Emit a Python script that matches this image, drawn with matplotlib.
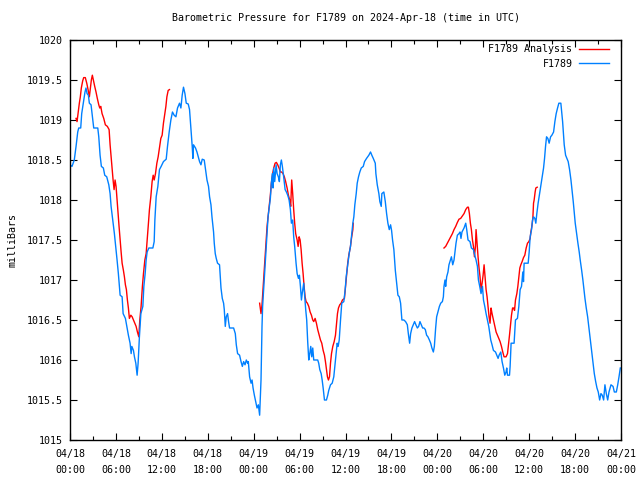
import numpy as np
import pandas as pd
import matplotlib
matplotlib.use("Agg")
import matplotlib.pyplot as plt
import matplotlib.dates as mdates

# hours since 2024-04-18 00:00 UTC, pressure in mb
obs_hours = [0.0, 0.26, 0.56, 0.79, 1.01, 1.14, 1.40, 1.53, 1.74, 1.96, 2.09, 2.23, 2.40, 2.53, 2.75,
             2.97, 3.10, 3.63, 3.76, 3.93, 4.10, 4.36, 4.54, 4.80, 5.07, 5.24, 5.37, 5.59, 5.80, 6.02,
             6.15, 6.32, 6.45, 6.55, 6.81, 6.94, 7.24, 7.42, 7.63, 7.85, 7.99, 8.08, 8.29, 8.42, 8.60,
             8.77, 8.90, 9.07, 9.26, 9.52, 9.65, 9.82, 9.95, 10.08, 10.30, 10.83, 11.00, 11.09, 11.26,
             11.48, 11.69, 11.91, 12.21, 12.57, 12.74, 12.96, 13.18, 13.39, 13.61, 13.84, 14.05, 14.31,
             14.49, 14.66, 14.83, 15.02, 15.19, 15.45, 15.62, 15.80, 15.97, 16.06, 16.14, 16.40, 16.59,
             16.93, 17.11, 17.28, 17.54, 17.71, 17.90, 18.10, 18.24, 18.42, 18.55, 18.76, 18.85, 18.98,
             19.11, 19.28, 19.54, 19.73, 19.90, 20.07, 20.16, 20.29, 20.42, 20.59, 20.72, 20.85, 21.38,
             21.60, 21.73, 21.90, 22.16, 22.35, 22.52, 22.69, 22.87, 23.04, 23.21, 23.30, 23.47, 23.66,
             23.79, 23.92, 24.09, 24.26, 24.44, 24.61, 24.78, 24.96, 25.09, 25.17, 25.30, 25.43, 25.62,
             25.75, 25.88, 26.05, 26.18, 26.31, 26.44, 26.53, 26.62, 26.75, 26.93, 27.06, 27.23, 27.36,
             27.49, 27.62, 27.75, 27.92, 28.11, 28.28, 28.45, 28.63, 28.80, 28.93, 29.10, 29.23, 29.36,
             29.54, 29.68, 29.85, 29.98, 30.11, 30.24, 30.37, 30.54, 30.67, 30.80, 30.93, 31.06, 31.20,
             31.33, 31.46, 31.59, 31.72, 31.85, 32.37, 32.50, 32.64, 32.82, 32.95, 33.08, 33.25, 33.51,
             33.68, 33.81, 34.04, 34.26, 34.47, 34.69, 34.82, 34.91, 35.04, 35.18, 35.35, 35.51, 35.78,
             35.96, 36.09, 36.26, 36.48, 36.65, 36.78, 36.96, 37.09, 37.22, 37.40, 37.53, 37.70, 37.87,
             38.06, 38.32, 38.49, 38.75, 39.05, 39.27, 39.44, 39.63, 39.89, 39.97, 40.15, 40.36, 40.49,
             40.67, 40.75, 41.01, 41.20, 41.37, 41.54, 41.72, 41.89, 42.02, 42.15, 42.32, 42.51, 42.68,
             42.85, 43.03, 43.20, 43.37, 43.63, 43.85, 44.08, 44.21, 44.38, 44.51, 44.68, 44.86, 45.03,
             45.20, 45.39, 45.56, 45.73, 45.91, 46.08, 46.25, 46.43, 46.60, 46.77, 46.96, 47.13, 47.29,
             47.48, 47.61, 47.78, 47.91, 48.08, 48.27, 48.44, 48.66, 48.79, 48.87, 49.00, 49.09, 49.22,
             49.39, 49.52, 49.65, 49.84, 50.01, 50.18, 50.31, 50.44, 50.62, 50.83, 50.96, 51.09, 51.22,
             51.49, 51.71, 51.84, 52.01, 52.27, 52.45, 52.72, 52.89, 53.06, 53.24, 53.37, 53.54, 53.71,
             53.90, 54.03, 54.20, 54.37, 54.55, 54.72, 54.85, 54.98, 55.15, 55.33, 55.60, 55.77, 55.94,
             56.07, 56.29, 56.46, 56.64, 56.81, 56.98, 57.07, 57.17, 57.43, 57.51, 57.64, 58.03, 58.21,
             58.47, 58.65, 58.82, 59.00, 59.17, 59.26, 59.34, 59.87, 60.00, 60.13, 60.31, 60.44, 60.57,
             60.74, 60.87, 61.00, 61.17, 61.36, 61.53, 61.70, 61.88, 62.01, 62.14, 62.27, 62.44, 62.61,
             62.80, 62.97, 63.19, 63.36, 63.53, 63.71, 63.88, 64.14, 64.37, 64.58, 64.76, 64.93, 65.10,
             65.28, 65.46, 65.63, 65.76, 65.89, 66.02, 66.20, 66.37, 66.54, 66.67, 66.86, 67.02, 67.16,
             67.29, 67.46, 67.64, 67.81, 67.98, 68.16, 68.33, 68.51, 68.69, 68.86, 69.03, 69.21, 69.38,
             69.55, 69.73, 69.90, 70.08, 70.26, 70.43, 70.69, 70.96, 71.13, 71.39, 71.57, 71.74, 71.91]
obs_mb = [1018.44, 1018.42, 1018.5, 1018.67, 1018.85, 1018.9, 1018.9, 1019.08, 1019.21, 1019.35, 1019.4,
          1019.33, 1019.31, 1019.21, 1019.19, 1019.0, 1018.9, 1018.9, 1018.79, 1018.56, 1018.42, 1018.4,
          1018.31, 1018.29, 1018.19, 1018.08, 1017.92, 1017.75, 1017.58, 1017.38, 1017.25, 1017.08,
          1016.92, 1016.81, 1016.79, 1016.58, 1016.52, 1016.42, 1016.31, 1016.21, 1016.08, 1016.17,
          1016.12, 1016.04, 1015.96, 1015.81, 1015.96, 1016.29, 1016.58, 1016.67, 1016.92, 1017.08,
          1017.25, 1017.35, 1017.4, 1017.4, 1017.48, 1017.75, 1018.04, 1018.17, 1018.38, 1018.42,
          1018.48, 1018.51, 1018.67, 1018.85, 1019.0, 1019.1, 1019.06, 1019.04, 1019.15, 1019.21,
          1019.15, 1019.31, 1019.41, 1019.33, 1019.21, 1019.2, 1019.13, 1018.9, 1018.67, 1018.52,
          1018.69, 1018.65, 1018.6, 1018.48, 1018.44, 1018.51, 1018.5, 1018.38, 1018.25, 1018.17,
          1018.04, 1017.94, 1017.79, 1017.6, 1017.46, 1017.33, 1017.27, 1017.21, 1017.19, 1016.9,
          1016.77, 1016.71, 1016.63, 1016.42, 1016.54, 1016.58, 1016.48, 1016.4, 1016.4, 1016.33,
          1016.19, 1016.08, 1016.06, 1015.98, 1015.92, 1015.98, 1015.94, 1016.0, 1015.96, 1015.98,
          1015.79, 1015.71, 1015.75, 1015.65, 1015.56, 1015.48, 1015.4, 1015.44, 1015.31, 1015.75,
          1016.42, 1016.67, 1016.88, 1017.08, 1017.38, 1017.58, 1017.79, 1017.92, 1018.02, 1018.21,
          1018.33, 1018.15, 1018.4, 1018.23, 1018.44, 1018.33, 1018.29, 1018.23, 1018.44, 1018.5,
          1018.42, 1018.29, 1018.13, 1018.1, 1018.06, 1018.0, 1017.88, 1017.71, 1017.75, 1017.54,
          1017.42, 1017.21, 1017.08, 1017.02, 1017.06, 1016.92, 1016.75, 1016.85, 1016.96, 1016.79,
          1016.63, 1016.5, 1016.23, 1016.0, 1016.08, 1016.17, 1016.04, 1016.15, 1016.0, 1016.0,
          1015.96, 1015.88, 1015.83, 1015.75, 1015.65, 1015.5, 1015.5, 1015.56, 1015.62, 1015.69,
          1015.71, 1015.79, 1016.0, 1016.12, 1016.21, 1016.17, 1016.25, 1016.5, 1016.71, 1016.73,
          1016.88, 1017.04, 1017.17, 1017.33, 1017.42, 1017.54, 1017.71, 1017.79, 1017.94, 1018.08,
          1018.21, 1018.29, 1018.35, 1018.4, 1018.42, 1018.48, 1018.52, 1018.56, 1018.6, 1018.56,
          1018.52, 1018.46, 1018.33, 1018.19, 1018.08, 1017.98, 1017.92, 1018.08, 1018.1, 1017.98,
          1017.83, 1017.71, 1017.63, 1017.69, 1017.62, 1017.5, 1017.38, 1017.12, 1016.96, 1016.81,
          1016.79, 1016.71, 1016.5, 1016.5, 1016.48, 1016.44, 1016.33, 1016.21, 1016.33, 1016.4,
          1016.44, 1016.48, 1016.44, 1016.4, 1016.42, 1016.48, 1016.44, 1016.4, 1016.4, 1016.38,
          1016.31, 1016.29, 1016.25, 1016.21, 1016.15, 1016.1, 1016.17, 1016.4, 1016.54, 1016.6,
          1016.67, 1016.71, 1016.73, 1016.79, 1016.92, 1017.0, 1016.92, 1017.04, 1017.1, 1017.19,
          1017.23, 1017.29, 1017.19, 1017.25, 1017.35, 1017.46, 1017.56, 1017.58, 1017.6, 1017.52,
          1017.6, 1017.65, 1017.71, 1017.63, 1017.5, 1017.48, 1017.4, 1017.38, 1017.31, 1017.25,
          1017.17, 1017.0, 1016.92, 1016.83, 1016.92, 1016.75, 1016.67, 1016.58, 1016.5, 1016.42,
          1016.33, 1016.25, 1016.19, 1016.12, 1016.1, 1016.06, 1016.02, 1016.06, 1016.1, 1015.98,
          1015.9, 1015.81, 1015.85, 1015.9, 1015.81, 1015.81, 1015.92, 1016.21, 1016.21, 1016.5,
          1016.52, 1016.67, 1016.88, 1016.92, 1017.1, 1016.98, 1017.21, 1017.21, 1017.35, 1017.54,
          1017.63, 1017.75, 1017.79, 1017.77, 1017.71, 1017.83, 1017.96, 1018.08, 1018.19, 1018.29,
          1018.4, 1018.52, 1018.67, 1018.79, 1018.77, 1018.71, 1018.79, 1018.81, 1018.85, 1018.98,
          1019.08, 1019.15, 1019.21, 1019.21, 1018.98, 1018.69, 1018.56, 1018.52, 1018.48, 1018.38,
          1018.25, 1018.1, 1017.98, 1017.85, 1017.71, 1017.58, 1017.46, 1017.35, 1017.25, 1017.12,
          1017.0, 1016.88, 1016.77, 1016.65, 1016.54, 1016.4, 1016.25, 1016.12, 1015.96, 1015.83,
          1015.73, 1015.65, 1015.6, 1015.5, 1015.58, 1015.56, 1015.5, 1015.69, 1015.58, 1015.5,
          1015.6, 1015.69, 1015.67, 1015.6, 1015.6, 1015.69, 1015.79, 1015.9]

# analysis runs (three separate pieces, gaps marked with nan)
ana_hours = [0.79, 0.92, 1.05, 1.22, 1.35, 1.48, 1.66, 1.79, 2.00, 2.19, 2.36, 2.53, 2.66, 2.79, 2.92,
             3.05, 3.23, 3.40, 3.57, 3.76, 3.89, 4.02, 4.19, 4.41, 4.62, 4.88, 5.11, 5.24, 5.37, 5.50,
             5.63, 5.76, 5.89, 6.02, 6.15, 6.28, 6.41, 6.55, 6.68, 6.81, 6.98, 7.11, 7.24, 7.37, 7.50,
             7.63, 7.76, 7.95, 8.12, 8.29, 8.47, 8.64, 8.81, 8.99, 9.12, 9.29, 9.46, 9.60, 9.78, 9.95,
             10.12, 10.25, 10.38, 10.56, 10.73, 10.87, 11.00, 11.17, 11.35, 11.52, 11.69, 11.87, 12.04,
             12.21, 12.40, 12.53, 12.66, 12.83, 13.00, np.nan,
             24.78, 24.96, 25.09, 25.22, 25.36, 25.49, 25.62, 25.75, 25.88, 26.05, 26.18, 26.31, 26.48,
             26.62, 26.80, 26.97, 27.14, 27.32, 27.49, 27.66, 27.84, 28.01, 28.18, 28.37, 28.54, 28.71,
             28.84, 28.97, 29.10, 29.23, 29.36, 29.49, 29.68, 29.81, 29.94, 30.07, 30.20, 30.33, 30.46,
             30.59, 30.72, 30.85, 31.02, 31.20, 31.38, 31.55, 31.72, 31.85, 32.03, 32.20, 32.37, 32.56,
             32.73, 32.90, 33.08, 33.25, 33.38, 33.51, 33.64, 33.77, 33.91, 34.04, 34.17, 34.34, 34.52,
             34.69, 34.82, 34.95, 35.08, 35.25, 35.43, 35.60, 35.86, 35.99, 36.29, 36.43, 36.65, 36.78,
             36.96, 37.01, np.nan,
             48.87, 49.09, 49.31, 49.52, 49.74, 49.97, 50.18, 50.40, 50.62, 50.83, 51.05, 51.27, 51.49,
             51.71, 51.93, 52.06, 52.19, 52.32, 52.45, 52.59, 52.72, 52.85, 52.98, 53.06, 53.19, 53.32,
             53.45, 53.58, 53.71, 53.85, 53.98, 54.11, 54.24, 54.37, 54.50, 54.63, 54.76, 54.89, 55.02,
             55.15, 55.33, 55.51, 55.68, 55.86, 56.03, 56.20, 56.38, 56.55, 56.72, 56.98, 57.17, 57.30,
             57.43, 57.56, 57.69, 57.83, 57.96, 58.09, 58.21, 58.39, 58.52, 58.65, 58.78, 58.91, 59.08,
             59.26, 59.43, 59.61, 59.78, 59.96, 60.13, 60.22, 60.35, 60.48, 60.57, 60.65, 60.78, 60.87,
             61.05]
ana_mb = [1019.02, 1018.98, 1019.08, 1019.21, 1019.29, 1019.4, 1019.49, 1019.53, 1019.53, 1019.46,
          1019.38, 1019.29, 1019.4, 1019.5, 1019.56, 1019.5, 1019.42, 1019.35, 1019.27, 1019.19, 1019.15,
          1019.17, 1019.08, 1019.02, 1018.94, 1018.92, 1018.88, 1018.69, 1018.54, 1018.4, 1018.25,
          1018.13, 1018.25, 1018.17, 1018.0, 1017.83, 1017.67, 1017.5, 1017.35, 1017.21, 1017.12,
          1017.04, 1016.94, 1016.88, 1016.75, 1016.65, 1016.52, 1016.56, 1016.54, 1016.5, 1016.46,
          1016.42, 1016.35, 1016.29, 1016.5, 1016.67, 1016.92, 1017.08, 1017.25, 1017.33, 1017.54,
          1017.71, 1017.88, 1018.04, 1018.23, 1018.31, 1018.25, 1018.33, 1018.46, 1018.54, 1018.65,
          1018.77, 1018.81, 1018.96, 1019.08, 1019.17, 1019.29, 1019.37, 1019.38, np.nan,
          1016.71, 1016.58, 1016.69, 1016.88, 1017.08, 1017.29, 1017.48, 1017.67, 1017.79, 1017.94,
          1018.06, 1018.21, 1018.33, 1018.4, 1018.46, 1018.47, 1018.44, 1018.4, 1018.35, 1018.35,
          1018.33, 1018.29, 1018.23, 1018.15, 1018.06, 1018.0, 1017.92, 1018.25, 1018.08, 1017.88,
          1017.71, 1017.58, 1017.5, 1017.42, 1017.54, 1017.5, 1017.38, 1017.21, 1017.08, 1016.92,
          1016.79, 1016.73, 1016.71, 1016.67, 1016.6, 1016.56, 1016.5, 1016.48, 1016.52, 1016.46,
          1016.38, 1016.31, 1016.25, 1016.21, 1016.12, 1016.06, 1015.98, 1015.88, 1015.79, 1015.75,
          1015.79, 1015.96, 1016.08, 1016.17, 1016.23, 1016.31, 1016.44, 1016.58, 1016.65, 1016.69,
          1016.71, 1016.75, 1016.77, 1016.9, 1017.21, 1017.31, 1017.42, 1017.52, 1017.63, 1017.71,
          np.nan,
          1017.4, 1017.42, 1017.46, 1017.5, 1017.54, 1017.58, 1017.63, 1017.67, 1017.72, 1017.76,
          1017.77, 1017.8, 1017.83, 1017.88, 1017.91, 1017.91, 1017.83, 1017.71, 1017.63, 1017.5,
          1017.42, 1017.29, 1017.42, 1017.63, 1017.46, 1017.29, 1017.15, 1017.04, 1016.88, 1016.96,
          1017.06, 1017.19, 1017.04, 1016.88, 1016.79, 1016.67, 1016.54, 1016.46, 1016.65, 1016.58,
          1016.5, 1016.42, 1016.35, 1016.31, 1016.27, 1016.23, 1016.17, 1016.1, 1016.04, 1016.04,
          1016.08, 1016.19, 1016.31, 1016.44, 1016.56, 1016.65, 1016.65, 1016.62, 1016.75, 1016.83,
          1016.92, 1017.04, 1017.15, 1017.19, 1017.23, 1017.28, 1017.31, 1017.4, 1017.46, 1017.48,
          1017.52, 1017.6, 1017.67, 1017.77, 1017.96, 1018.0, 1018.1, 1018.15, 1018.16]

start = pd.Timestamp("2024-04-18 00:00")
obs_t = start + pd.to_timedelta(obs_hours, unit="h")
ana_t = start + pd.to_timedelta(np.array(ana_hours, dtype=float), unit="h")

plt.rcParams["font.family"] = "DejaVu Sans Mono"
plt.rcParams["font.size"] = 7.2

fig = plt.figure(figsize=(6.4, 4.8), dpi=100)
ax = fig.add_axes([70 / 640, 40 / 480, 551 / 640, 400 / 480])

ax.plot(ana_t, ana_mb, color="#ff0000", lw=1.0, label="F1789 Analysis")
ax.plot(obs_t, obs_mb, color="#0080ff", lw=1.0, label="F1789")

ax.set_xlim(start, start + pd.Timedelta(hours=72))
ax.set_ylim(1015, 1020)
ax.set_yticks(np.arange(1015, 1020.01, 0.5))
ax.yaxis.set_major_formatter(plt.FuncFormatter(lambda v, p: f"{v:g}"))

ax.xaxis.set_major_locator(mdates.HourLocator(byhour=[0, 6, 12, 18]))
ax.xaxis.set_minor_locator(mdates.HourLocator(byhour=[3, 9, 15, 21]))
ax.xaxis.set_major_formatter(mdates.DateFormatter("%m/%d\n%H:%M"))

ax.tick_params(which="both", direction="in", top=True, right=True, width=0.8)
ax.tick_params(which="major", length=5)
ax.tick_params(which="minor", length=3)
ax.tick_params(axis="x", pad=6.5)
ax.tick_params(axis="y", pad=5)
for lab in ax.get_xticklabels():
    lab.set_linespacing(1.75)
for sp in ax.spines.values():
    sp.set_linewidth(1.0)

ax.set_ylabel("milliBars", labelpad=7)
ax.set_title("Barometric Pressure for F1789 on 2024-Apr-18 (time in UTC)",
             fontsize=7.2, pad=14)

ax.legend(loc="upper right", bbox_to_anchor=(1 - 5 / 551, 1 + 3 / 400), frameon=False,
          markerfirst=False, handlelength=3.0, labelspacing=0.45, borderaxespad=0.35,
          handletextpad=0.6, fontsize=7.2)

fig.savefig("out.png", dpi=100)
